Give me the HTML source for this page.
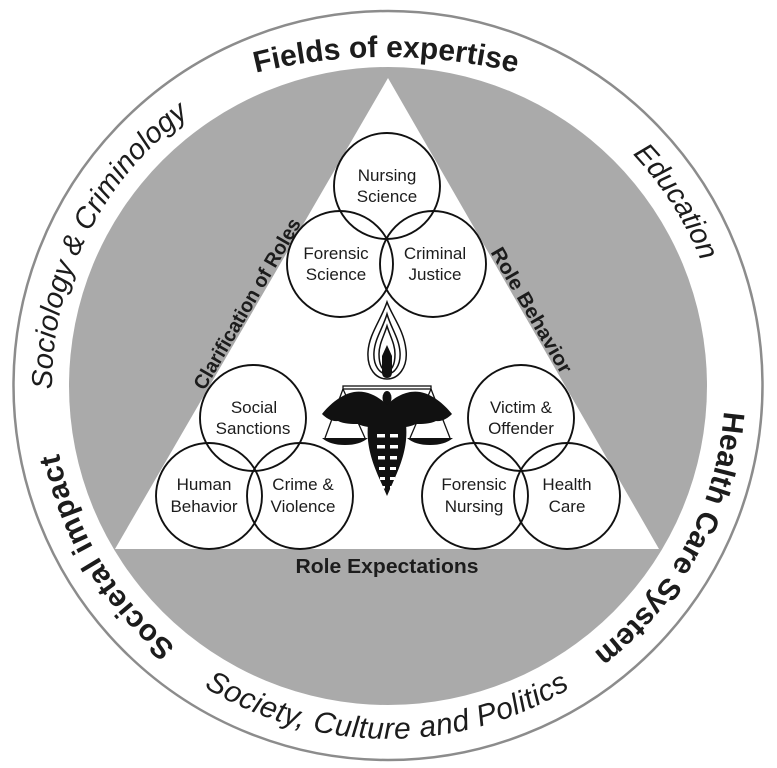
<!DOCTYPE html>
<html>
<head>
<meta charset="utf-8">
<style>
html,body{margin:0;padding:0;background:#fff;}
svg{display:block;}
</style>
</head>
<body>
<svg width="777" height="768" viewBox="0 0 777 768" xmlns="http://www.w3.org/2000/svg" font-family="'Liberation Sans', Arial, sans-serif">
  <defs>
    <path id="pFields" d="M114,129.9 A544,544 0 0 1 658,129.9"/>
    <path id="pSoc" d="M187.9,655.9 A336,336 0 0 1 483.7,63.9"/>
    <path id="pEdu" d="M258.5,74.9 A337,337 0 0 1 616.1,634.1"/>
    <path id="pHealth" d="M597.1,121.7 A337,337 0 0 1 281.9,705.8"/>
    <path id="pImpact" d="M509.5,699.3 A336,336 0 0 1 166.7,133.2"/>
    <path id="pSociety" d="M40.2,446.1 A353,353 0 0 0 735.4,448.5"/>
  </defs>

  <!-- outer ring -->
  <circle cx="388" cy="385.5" r="374.5" fill="#fff" stroke="#8c8c8c" stroke-width="2.5"/>
  <!-- gray disk -->
  <circle cx="388" cy="386" r="319" fill="#aaaaaa"/>
  <!-- white triangle -->
  <polygon points="388,78 115,549 659,549" fill="#fff"/>

  <!-- ring texts -->
  <g fill="#1c1c1c">
    <text font-size="30" font-weight="700"><textPath href="#pFields" startOffset="50%" text-anchor="middle" textLength="263">Fields of expertise</textPath></text>
    <text font-size="29" font-style="italic"><textPath href="#pSoc" startOffset="50%" text-anchor="middle" textLength="318">Sociology &amp; Criminology</textPath></text>
    <text font-size="29" font-style="italic"><textPath href="#pEdu" startOffset="50%" text-anchor="middle" textLength="128">Education</textPath></text>
    <text font-size="30" font-weight="700"><textPath href="#pHealth" startOffset="50%" text-anchor="middle" textLength="283">Health Care System</textPath></text>
    <text font-size="30" font-weight="700"><textPath href="#pImpact" startOffset="50%" text-anchor="middle" textLength="230">Societal impact</textPath></text>
    <text font-size="30" font-style="italic"><textPath href="#pSociety" startOffset="50%" text-anchor="middle" textLength="385">Society, Culture and Politics</textPath></text>
  </g>

  <!-- triangle side labels -->
  <g fill="#1c1c1c" font-size="20" font-weight="700" text-anchor="middle">
    <text transform="translate(252.9,307.1) rotate(-60)" x="0" y="0" textLength="194" lengthAdjust="spacingAndGlyphs">Clarification of Roles</text>
    <text transform="translate(525.8,313.6) rotate(60)" x="0" y="0" textLength="142" lengthAdjust="spacingAndGlyphs">Role Behavior</text>
    <text x="387" y="573" textLength="183" lengthAdjust="spacingAndGlyphs">Role Expectations</text>
  </g>

  <!-- circles -->
  <g fill="none" stroke="#111" stroke-width="1.9">
    <circle cx="387" cy="186" r="53"/>
    <circle cx="340" cy="264" r="53"/>
    <circle cx="433" cy="264" r="53"/>
    <circle cx="253" cy="418" r="53"/>
    <circle cx="209" cy="496" r="53"/>
    <circle cx="300" cy="496" r="53"/>
    <circle cx="521" cy="418" r="53"/>
    <circle cx="475" cy="496" r="53"/>
    <circle cx="567" cy="496" r="53"/>
  </g>

  <!-- circle labels -->
  <g fill="#1c1c1c" font-size="17" text-anchor="middle">
    <text x="387" y="181">Nursing</text><text x="387" y="202">Science</text>
    <text x="336" y="259">Forensic</text><text x="336" y="280">Science</text>
    <text x="435" y="259">Criminal</text><text x="435" y="280">Justice</text>
    <text x="254" y="413">Social</text><text x="253" y="434">Sanctions</text>
    <text x="204" y="490">Human</text><text x="204" y="512">Behavior</text>
    <text x="303" y="490">Crime &amp;</text><text x="303" y="512">Violence</text>
    <text x="521" y="413">Victim &amp;</text><text x="521" y="434">Offender</text>
    <text x="474" y="490">Forensic</text><text x="474" y="512">Nursing</text>
    <text x="567" y="490">Health</text><text x="567" y="512">Care</text>
  </g>

  <!-- flame -->
  <g stroke="#111" stroke-width="1.5" fill="#fff">
    <path d="M387,302 C392,316 404,330 406,350 C408,368 398,379 387,379 C376,379 367,369 368,352 C369,334 381,320 387,302 Z"/>
    <path d="M387,314 C391,328 399,338 400,352 C401,366 394,374 387,374 C380,374 373,366 374,352 C375,338 383,328 387,314 Z"/>
    <path d="M387,326 C390,336 395,344 395,354 C395,366 391,371 387,371 C383,371 379,366 379,354 C379,344 384,336 387,326 Z"/>
  </g>
  <path d="M387,345 L392,356 L392,372 Q392,378 387,378 Q382,378 382,372 L382,356 Z" fill="#111"/>

  <!-- scales -->
  <g stroke="#111" stroke-width="1.3" fill="none">
    <rect x="343" y="386" width="88" height="3" fill="#fff"/>
    <line x1="343" y1="389" x2="325" y2="438"/>
    <line x1="343" y1="389" x2="365" y2="438"/>
    <line x1="431" y1="389" x2="410" y2="438"/>
    <line x1="431" y1="389" x2="450" y2="438"/>
  </g>
  <path d="M322,438 L368,438 Q360,445 345,445 Q330,445 322,438 Z" fill="#111"/>
  <path d="M407,438 L453,438 Q445,445 430,445 Q415,445 407,438 Z" fill="#111"/>

  <!-- caduceus -->
  <g fill="#111">
    <rect x="385.5" y="396" width="3" height="34"/>
    <ellipse cx="387" cy="398" rx="4.5" ry="7"/>
    <path d="M386,404 C378,396 366,390 354,392 C342,394 330,404 322,414 C326,418 332,422 338,421 C344,424 352,424 358,424 C364,427 372,428 386,428 Z"/>
    <path d="M388,404 C396,396 408,390 420,392 C432,394 444,404 452,414 C448,418 442,422 436,421 C430,424 422,424 416,424 C410,427 402,428 388,428 Z"/>
    <path d="M368,424 C366,445 372,462 380,480 L387,496 L394,480 C402,462 408,445 406,424 Z"/>
  </g>
  <g fill="#fff">
    <rect x="377" y="434" width="8" height="3.5"/><rect x="390" y="434" width="8" height="3.5"/>
    <rect x="377" y="445" width="8" height="3.5"/><rect x="390" y="445" width="8" height="3.5"/>
    <rect x="378" y="456" width="7" height="3.5"/><rect x="390" y="456" width="7" height="3.5"/>
    <rect x="379" y="467" width="6" height="3"/><rect x="390" y="467" width="6" height="3"/>
    <rect x="380" y="477" width="5" height="3"/><rect x="390" y="477" width="5" height="3"/>
    <rect x="382" y="486" width="3" height="2.5"/><rect x="390" y="486" width="3" height="2.5"/>
  </g>
</svg>
</body>
</html>
